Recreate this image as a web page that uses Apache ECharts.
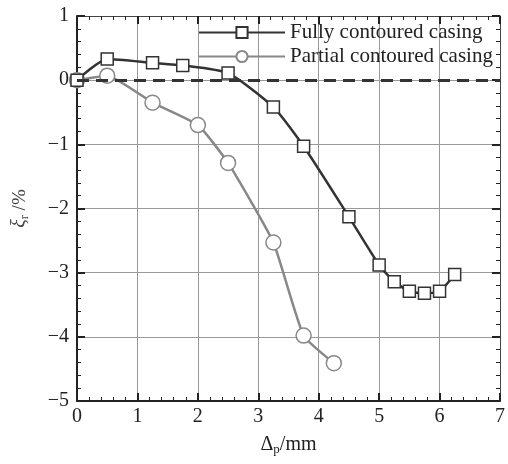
<!DOCTYPE html>
<html><head><meta charset="utf-8">
<script src="https://cdn.jsdelivr.net/npm/echarts@6/dist/echarts.min.js"></script>
<style>html,body{margin:0;padding:0;background:#fff}#c{width:508px;height:464px}</style>
</head><body><div id="c"></div>
<script>
const fullyX = [0, 0.5, 1.25, 1.75, 2.5, 3.25, 3.75, 4.5, 5, 5.25, 5.5, 5.75, 6, 6.25];
const fullyY = [0, 0.33, 0.27, 0.23, 0.11, -0.42, -1.03, -2.13, -2.88, -3.14, -3.29, -3.32, -3.29, -3.03];
const partX = [0, 0.5, 1.25, 2, 2.5, 3.25, 3.75, 4.25];
const partY = [0, 0.07, -0.35, -0.70, -1.29, -2.53, -3.98, -4.41];
const xTicks = [0, 1, 2, 3, 4, 5, 6, 7];
const yTicks = [-5, -4, -3, -2, -1, 0, 1];
const names = ['Fully contoured casing', 'Partial contoured casing'];

const font = 'Liberation Serif';
const chart = echarts.init(document.getElementById('c'));
const pair = (xs, ys) => xs.map((x, i) => [x, ys[i]]);
const axisBase = {
  type: 'value', interval: 1,
  axisLine: {show: true, onZero: false, lineStyle: {color: '#222', width: 2}},
  axisTick: {show: true, inside: true, length: 8, lineStyle: {color: '#222', width: 2}},
  minorTick: {show: true, splitNumber: 5, length: 4, lineStyle: {color: '#222', width: 1}},
};
chart.setOption({
  animation: false,
  grid: {left: 77, right: 8, top: 16, bottom: 63},
  legend: {
    data: names, orient: 'vertical', left: 193, top: 17, itemGap: 3,
    itemWidth: 86, itemHeight: 14,
    textStyle: {fontFamily: font, fontSize: 21, color: '#222'}
  },
  xAxis: [
    Object.assign({}, axisBase, {
      min: 0, max: 7,
      splitLine: {show: true, lineStyle: {color: '#999', width: 1}},
      axisLabel: {fontFamily: font, fontSize: 20, color: '#222', margin: 6,
        formatter: v => xTicks.includes(v) ? String(v) : ''},
      name: '{d|Δ}{s|p}{d|/mm}', nameLocation: 'middle', nameGap: 32,
      nameTextStyle: {rich: {d: {fontFamily: font, fontSize: 20, color: '#222'},
        s: {fontFamily: font, fontSize: 13, color: '#222', padding: [10, 0, 0, 0]}}}
    }),
    Object.assign({}, axisBase, {position: 'top', min: 0, max: 7, axisLabel: {show: false}, splitLine: {show: false},
      axisLine: {show: true, onZero: false, lineStyle: {color: '#444', width: 1}}})
  ],
  yAxis: [
    Object.assign({}, axisBase, {
      min: -5, max: 1,
      splitLine: {show: true, lineStyle: {color: '#999', width: 1}},
      axisLabel: {fontFamily: font, fontSize: 20, color: '#222', margin: 8,
        formatter: v => yTicks.includes(v) ? String(v).replace('-', '\u2212') : ''},
      name: '{i|ξ}{s|r}{d| /%}', nameLocation: 'middle', nameGap: 46,
      nameTextStyle: {rich: {i: {fontFamily: font, fontSize: 20, fontStyle: 'italic', color: '#444'},
        d: {fontFamily: font, fontSize: 19, color: '#444'},
        s: {fontFamily: font, fontSize: 12, color: '#444', padding: [10, 0, 0, 0]}}}
    }),
    Object.assign({}, axisBase, {position: 'right', min: -5, max: 1, axisLabel: {show: false}, splitLine: {show: false},
      axisLine: {show: true, onZero: false, lineStyle: {color: '#444', width: 1}}})
  ],
  series: [
    {
      name: names[1], type: 'line', smooth: 0.15, data: pair(partX, partY),
      symbol: 'circle', symbolSize: 15,
      lineStyle: {color: '#888', width: 2.5},
      itemStyle: {color: '#fff', borderColor: '#888', borderWidth: 1.5},
      z: 3
    },
    {
      name: names[0], type: 'line', smooth: 0.2, data: pair(fullyX, fullyY),
      symbol: 'rect', symbolSize: 12,
      lineStyle: {color: '#333', width: 2.5},
      itemStyle: {color: '#fff', borderColor: '#333', borderWidth: 1.5},
      z: 4,
      markLine: {silent: true, symbol: 'none', label: {show: false},
        lineStyle: {color: '#333', width: 3, type: [12, 7]},
        data: [{yAxis: 0}]}
    }
  ]
});
</script></body></html>
